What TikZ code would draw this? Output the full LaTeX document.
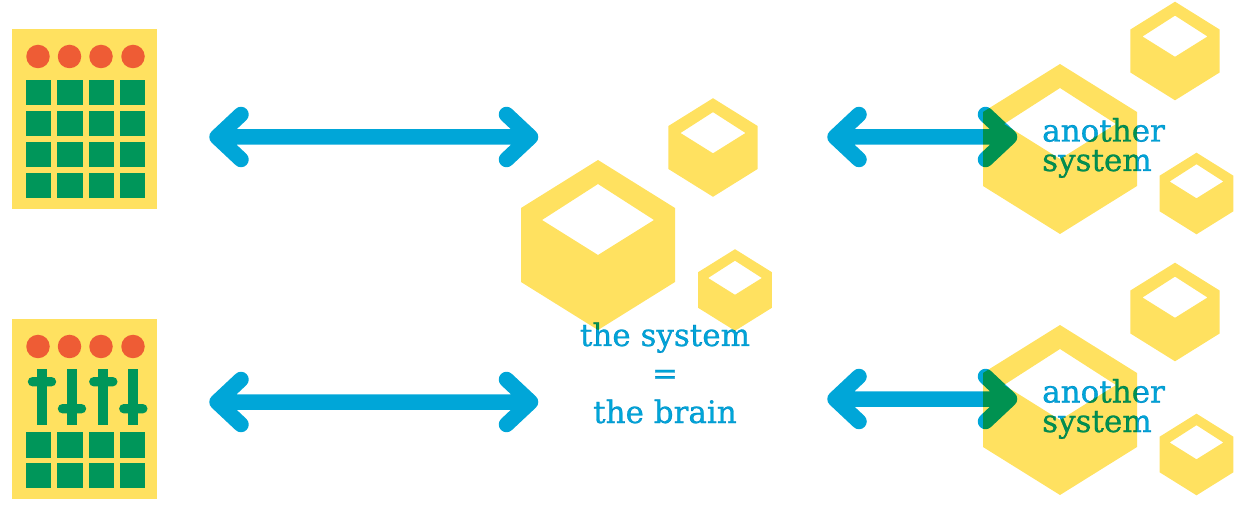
\documentclass[tikz,border=0pt]{standalone}
\usepackage{fontspec}
\setmainfont{DejaVu Serif}
\definecolor{sunyellow}{HTML}{FFE160}
\definecolor{padgreen}{HTML}{00965A}
\definecolor{lamporange}{HTML}{EE5C35}
\definecolor{linkblue}{HTML}{00A6D8}
\tikzset{
 cubefill/.style={fill=sunyellow,even odd rule},
 cube/.pic={
  \fill[cubefill] (0,-85) -- (77,-37) -- (77,37) -- (0,85) -- (-77,37) -- (-77,-37) -- cycle
   (0,-61) -- (56,-25) -- (0,10) -- (-56,-25) -- cycle;
 },
 panelbox/.style={fill=sunyellow,minimum width=145pt,minimum height=180pt,inner sep=0pt},
 padbox/.style={fill=padgreen,minimum size=25.4pt,inner sep=0pt},
 lamp/.style={fill=lamporange,circle,minimum size=23.5pt,inner sep=0pt},
 % one stroked path, so that its overlaps are not darkened twice
 link/.style={line width=15.5pt,draw=linkblue,line cap=round,line join=round,blend mode=multiply,
  to path={(\tikztostart) ++(24,-22.5) -- ++(-24,22.5) -- ++(24,22.5)
   (\tikztostart) -- (\tikztotarget) ++(-24,-22.5) -- ++(24,22.5) -- ++(-24,22.5)}},
 lbl/.style={text=linkblue,font=\fontsize{31}{29.5}\selectfont\addfontfeature{FakeBold=0.8},inner sep=0pt}
}
\begin{document}
\begin{tikzpicture}[x=1pt,y=-1pt]
 \useasboundingbox (0,0) rectangle (1247,518);
 % panels
 \node[panelbox] (panelA) at (84.5,119) {};
 \node[panelbox] (panelB) at (84.5,409) {};
 % lamps
 \foreach \n/\x in {1/38,2/69.5,3/101,4/133} {
  \node[lamp] (lampA\n) at (\x,56.5) {};
  \node[lamp] (lampB\n) at (\x,346.5) {};
 }
 % pads on the first panel
 \foreach \n/\x in {1/38.7,2/70,3/101.4,4/132.7}
  \foreach \r/\y in {1/92.8,2/123.8,3/154.8,4/185.8}
   \node[padbox] (padA\n\r) at (\x,\y) {};
 % pads on the second panel
 \foreach \n/\x in {1/38.7,2/70,3/101.4,4/132.7}
  \foreach \r/\y in {1/445,2/475.5}
   \node[padbox] (padB\n\r) at (\x,\y) {};
 % faders
 \foreach \x/\y in {42/381.7,72/408.7,103.3/381.7,133.3/408.7} {
  \fill[padgreen] (\x-5,369) rectangle (\x+5,425);
  \fill[padgreen,rounded corners=4.7pt] (\x-14.2,\y-4.7) rectangle (\x+14.2,\y+4.7);
 }
 % cubes
 \pic at (598,245) {cube};
 \pic[scale=.58] at (713,147.5) {cube};
 \pic[scale=.48] at (735,290) {cube};
 \foreach \y in {0,261} {
  \pic at (1060,149+\y) {cube};
  \pic[scale=.58] at (1175,51+\y) {cube};
  \pic[scale=.48] at (1196.5,193.5+\y) {cube};
 }
 % ends of the links
 \coordinate (linkA) at (217,137);
 \coordinate (sysA) at (530.5,137);
 \coordinate (linkB) at (217,402);
 \coordinate (sysB) at (530.5,402);
 \coordinate (linkC) at (835,137);
 \coordinate (otherA) at (1009.5,137);
 \coordinate (linkD) at (835,399);
 \coordinate (otherB) at (1009.5,399);
 % links
 \draw[link] (linkA) to (sysA);
 \draw[link] (linkB) to (sysB);
 \draw[link] (linkC) to (otherA);
 \draw[link] (linkD) to (otherB);
 % labels
 \begin{scope}[blend mode=multiply]
  \node[lbl,anchor=base] (system) at (665,346) {the system};
  \node[lbl,anchor=base] (equals) at (665,384) {=};
  \node[lbl,anchor=base] (brain) at (665,423) {the brain};
  \node[lbl,anchor=base west,align=left] (otherlblA) at (1042,171) {another\\system};
  \node[lbl,anchor=base west,align=left] (otherlblB) at (1042,432) {another\\system};
 \end{scope}
\end{tikzpicture}
\end{document}
